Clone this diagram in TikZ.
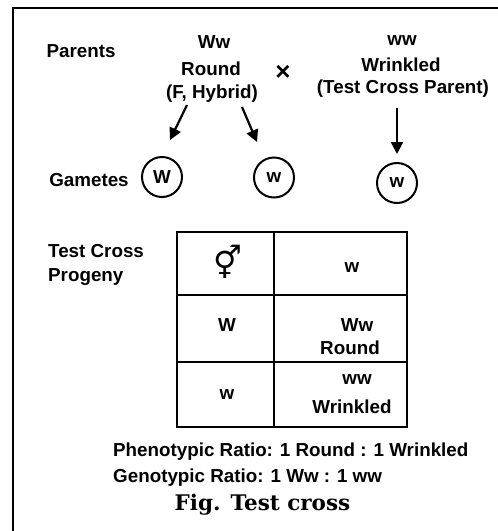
\documentclass[tikz,border=0pt]{standalone}
\usepackage{fontspec}
\usetikzlibrary{arrows.meta}
\newfontfamily\arialish{Liberation Sans}
\newfontfamily\symfont{DejaVu Sans}
\newfontfamily\capfont{DejaVu Serif}
\tikzset{
  txt/.style={font=\arialish\bfseries\fontsize{18.8}{22}\selectfont, inner sep=0pt},
  gamete/.style={txt, circle, draw, line width=2pt, minimum size=40pt},
  arr/.style={line width=2.2pt, -{Triangle[length=12pt,width=12pt]}},
  grid/.style={line width=2.2pt},
}
\begin{document}
\begin{tikzpicture}[x=1pt, y=-1pt]
\useasboundingbox (0,0) rectangle (498,531);
\fill[white] (0,0) rectangle (498,531);
% frame
\coordinate (fr1) at (498,8);
\coordinate (fr2) at (13,8);
\coordinate (fr3) at (13,531);
\draw[line width=2.2pt] (fr1) -- (fr2) -- (fr3);
% parents
\node[txt] (parents) at (81,51) {Parents};
\node[txt] (Ww) at (214,42.5) {Ww};
\node[txt] (round) at (211,68.5) {Round};
\node[txt] (hyb) at (212,93.5) {(F, Hybrid)};
\node[txt, font=\arialish\bfseries\fontsize{26}{28}\selectfont] (cross) at (283,72.5) {×};
\node[txt] (ww) at (402,41) {ww};
\node[txt] (wrinkled) at (401,65) {Wrinkled};
\node[txt] (tcp) at (403,89) {(Test Cross Parent)};
% gametes
\node[txt] (gametes) at (89,180) {Gametes};
\node[gamete] (g1) at (162,177) {W};
\node[gamete] (g2) at (274,177.5) {w};
\node[gamete] (g3) at (397,183) {w};
\coordinate (a1s) at (187,105);
\coordinate (a1e) at (170,140);
\coordinate (a2s) at (242,107);
\coordinate (a2e) at (257,142);
\coordinate (a3s) at (397,108);
\coordinate (a3e) at (397,154);
\draw[arr] (a1s) -- (a1e);
\draw[arr] (a2s) -- (a2e);
\draw[arr] (a3s) -- (a3e);
% progeny
\node[txt, anchor=west] (tc) at (48,251.5) {Test Cross};
\node[txt, anchor=west] (prog) at (48,277.5) {Progeny};
% table
\coordinate (t1) at (177,232);
\coordinate (t2) at (407,427);
\draw[grid] (t1) rectangle (t2);
\coordinate (c1) at (274,232);
\coordinate (c2) at (274,427);
\draw[grid] (c1) -- (c2);
\coordinate (r1a) at (177,295);
\coordinate (r1b) at (407,295);
\coordinate (r2a) at (177,362);
\coordinate (r2b) at (407,362);
\draw[grid] (r1a) -- (r1b);
\draw[grid] (r2a) -- (r2b);
\node[inner sep=0pt, font=\symfont\bfseries\fontsize{32}{34}\selectfont] (sym) at (228,262) {⚥};
\node[txt] (cw) at (352,268) {w};
\node[txt] (cW) at (227,325) {W};
\node[txt] (cWw) at (357,325) {Ww};
\node[txt] (cRound) at (350,348) {Round};
\node[txt] (cw2) at (227,395) {w};
\node[txt] (cww) at (357,380) {ww};
\node[txt] (cWr) at (352,407) {Wrinkled};
% ratios
\node[txt, anchor=west] (pheno) at (113,451.5) {Phenotypic Ratio: 1 Round : 1 Wrinkled};
\node[txt, anchor=west] (geno) at (113,478) {Genotypic Ratio: 1 Ww : 1 ww};
\node[inner sep=0pt, font=\capfont\bfseries\fontsize{21.5}{24}\selectfont] (fig) at (262.5,505) {Fig. Test cross};
\end{tikzpicture}
\end{document}
